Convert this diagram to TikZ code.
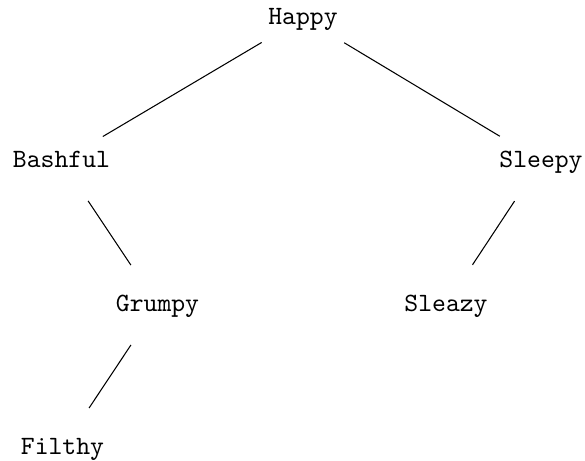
\documentclass[tikz,border=0pt]{standalone}
\begin{document}
\begin{tikzpicture}[x=0.3788pt,y=-0.3788pt,
  dwarf/.style={inner sep=0pt,font=\ttfamily,text height=6.1pt,text depth=1.5pt},
  link/.style={line width=0.4pt,shorten <=18.2pt,shorten >=18.2pt}]
\useasboundingbox (0,0) rectangle (585,461);
\node[dwarf] (happy) at (303,18) {Happy};
\node[dwarf] (bashful) at (61.5,161) {Bashful};
\node[dwarf] (sleepy) at (541,161) {Sleepy};
\node[dwarf] (grumpy) at (157.5,305) {Grumpy};
\node[dwarf] (sleazy) at (446,305) {Sleazy};
\node[dwarf] (filthy) at (62.5,448) {Filthy};
\draw[link] (happy.center) -- (bashful.center);
\draw[link] (happy.center) -- (sleepy.center);
\draw[link] (bashful.center) -- (grumpy.center);
\draw[link] (sleepy.center) -- (sleazy.center);
\draw[link] (grumpy.center) -- (filthy.center);
\end{tikzpicture}
\end{document}
